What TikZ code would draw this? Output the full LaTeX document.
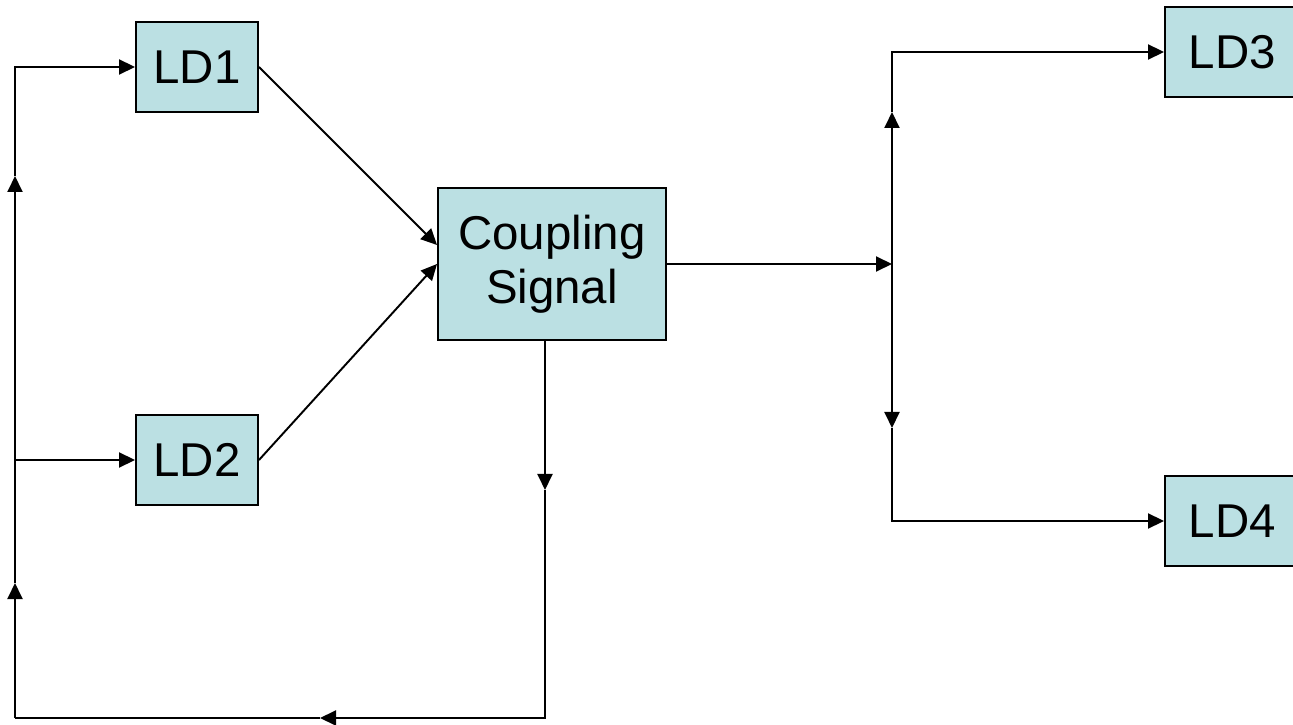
\documentclass[tikz,border=0pt]{standalone}
\usepackage{fontspec}
\setmainfont{Liberation Sans}
\usepackage{tikz}
\usetikzlibrary{arrows.meta}
\definecolor{boxfill}{RGB}{187,224,227}

\begin{document}
\begin{tikzpicture}[line width=1.1pt, arr/.style={-{Triangle[length=0.32cm,width=0.3cm]}}]
		\tikzstyle{ldbox}=[draw=black, fill=boxfill, inner sep=0pt, align=center, font=\fontsize{27}{30.7}\selectfont]
		\useasboundingbox (0,0) rectangle (25.86,-14.5);
		\node [ldbox, minimum width=2.44cm, minimum height=1.8cm] (LD1) at (3.94,-1.34) {LD1};
		\node [ldbox, minimum width=2.44cm, minimum height=1.8cm] (LD2) at (3.94,-9.2) {LD2};
		\node [ldbox, minimum width=4.56cm, minimum height=3.04cm] (CS) at (11.04,-5.28) {Coupling\\Signal};
		\node [ldbox, minimum width=2.7cm, minimum height=1.8cm] (LD3) at (24.65,-1.04) {LD3};
		\node [ldbox, minimum width=2.7cm, minimum height=1.8cm] (LD4) at (24.65,-10.42) {LD4};
		\coordinate (bl) at (0.3,-14.36);
		\coordinate (lu1) at (0.3,-11.66);
		\coordinate (lu2) at (0.3,-3.52);
		\coordinate (lj) at (0.3,-9.2);
		\coordinate (cb) at (10.9,-6.8);
		\coordinate (cd) at (10.9,-9.8);
		\coordinate (bm) at (6.4,-14.36);
		\coordinate (rj) at (17.84,-5.28);
		\coordinate (ru) at (17.84,-2.24);
		\coordinate (rd) at (17.84,-8.56);
		\draw [arr] (bl) -- (lu1);
		\draw [arr] (lu1) -- (lu2);
		\draw [arr] (lu2) |- (LD1.west);
		\draw [arr] (lj) -- (LD2.west);
		\draw [arr] (LD1.east) -- ([yshift=0.38cm]CS.west);
		\draw [arr] (LD2.east) -- (CS.west);
		\draw [arr] (cb) -- (cd);
		\draw [arr] (cd) |- (bm);
		\draw (bm) -- (bl);
		\draw [arr] (CS.east) -- (rj);
		\draw [arr] (rj) -- (ru);
		\draw [arr] (ru) |- (LD3.west);
		\draw [arr] (rj) -- (rd);
		\draw [arr] (rd) |- (LD4.west);
	\end{tikzpicture}
\end{document}
